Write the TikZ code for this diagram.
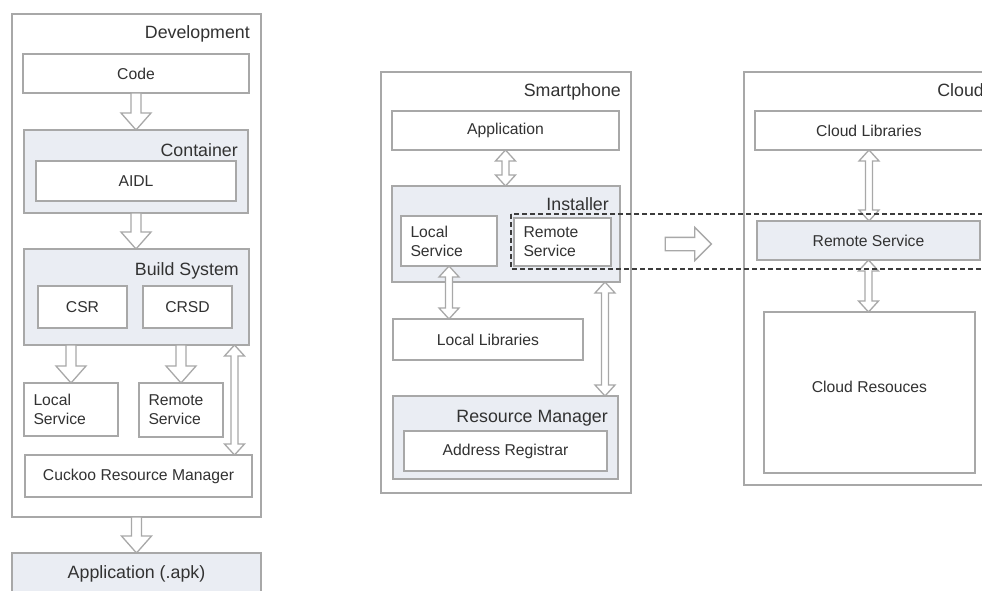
\documentclass[tikz,border=0pt]{standalone}
\usepackage{fontspec}
\setmainfont{Liberation Sans}
\usetikzlibrary{positioning, calc, shapes.arrows}
\definecolor{my_line}{RGB}{168, 168, 168}
\definecolor{my_fill}{RGB}{234, 237, 243}
\definecolor{my_text}{RGB}{50, 50, 50}
\definecolor{my_dash}{RGB}{60, 60, 60}
\newcommand{\headfont}{\fontsize{17.8}{21}\selectfont}
\newcommand{\boxfont}{\fontsize{15.7}{19}\selectfont}
\tikzset {
  frame/.style = {draw=my_line, line width=1.3pt, fill=white, rectangle, inner sep=0pt, outer sep=0pt, font=\boxfont, text=my_text},
  panel/.style = {frame, fill=my_fill},
  boxsize/.style 2 args = {minimum width=#1pt, minimum height=#2pt},
  twoline/.style = {align=left, text width=#1pt, inner xsep=9.5pt},
  title/.style = {anchor=base east, inner sep=0pt, font=\headfont, text=my_text},
  hollow/.style = {draw=my_line, line width=1.3pt, fill=white, line join=miter},
  dashbox/.style = {draw=my_dash, line width=1.3pt, dash pattern=on 5pt off 3pt},
}
% hollow block arrows between two anchors (vertical)
\newcommand{\flowdown}[2]{%
  \draw[hollow] let \p1=(#1), \p2=(#2) in
    (\x1-5pt,\y1) -- (\x1-5pt,\y2+17pt) -- (\x1-15pt,\y2+17pt) -- (\x1,\y2)
    -- (\x1+15pt,\y2+17pt) -- (\x1+5pt,\y2+17pt) -- (\x1+5pt,\y1) -- cycle;}
\newcommand{\flowboth}[2]{%
  \draw[hollow] let \p1=(#1), \p2=(#2) in
    (\x1,\y1) -- (\x1+10pt,\y1-11pt) -- (\x1+3.5pt,\y1-11pt) -- (\x1+3.5pt,\y2+11pt)
    -- (\x1+10pt,\y2+11pt) -- (\x1,\y2) -- (\x1-10pt,\y2+11pt) -- (\x1-3.5pt,\y2+11pt)
    -- (\x1-3.5pt,\y1-11pt) -- (\x1-10pt,\y1-11pt) -- cycle;}
\begin{document}
\begin{tikzpicture}[x=1pt, y=-1pt]
    \useasboundingbox (0,0) rectangle (982,591);
    \fill[white] (0,0) rectangle (982,591);

    % Development
    \node[frame, boxsize={249}{503}] (dev) at (136.5,265.5) {};
    \node[title] (dev_title) at ([xshift=-11pt, yshift=-25pt]dev.north east) {Development};
    \node[frame, boxsize={226}{39}] (code) at (136,73.5) {Code};
    \node[panel, boxsize={224}{83}] (container) at (136,171.5) {};
    \node[title] (container_title) at ([xshift=-10pt, yshift=-27pt]container.north east) {Container};
    \node[frame, boxsize={200}{40}] (aidl) at (136,181) {AIDL};
    \node[panel, boxsize={225}{96}] (build) at (136.5,297) {};
    \node[title] (build_title) at ([xshift=-10pt, yshift=-26pt]build.north east) {Build System};
    \node[frame, boxsize={89}{42}] (csr) at (82.5,307) {CSR};
    \node[frame, boxsize={89}{42}] (crsd) at (187.5,307) {CRSD};
    \node[frame, boxsize={94}{53}, twoline=75] (dev_local) at (71,409.5) {Local\\Service};
    \node[frame, boxsize={84}{54}, twoline=65] (dev_remote) at (181,410) {Remote\\Service};
    \node[frame, boxsize={227}{42}] (cuckoo) at (138.5,476) {Cuckoo Resource Manager};
    \node[panel, boxsize={249}{42}, font=\headfont] (apk) at (136.5,574) {Application (.apk)};

    % Smartphone
    \node[frame, boxsize={250}{421}] (phone) at (506,282.5) {};
    \node[title] (phone_title) at ([xshift=-10pt, yshift=-25pt]phone.north east) {Smartphone};
    \node[frame, boxsize={227}{39}] (app) at (505.5,130.5) {Application};
    \node[panel, boxsize={228}{96}] (installer) at (506,234) {};
    \node[title] (installer_title) at ([xshift=-11pt, yshift=-24pt]installer.north east) {Installer};
    \node[frame, boxsize={96}{50}, twoline=77] (phone_local) at (449,241) {Local\\Service};
    \node[frame, boxsize={97}{48}, twoline=78] (phone_remote) at (562.5,242) {Remote\\Service};
    \node[frame, boxsize={190}{41}] (loclib) at (488,339.5) {Local Libraries};
    \node[panel, boxsize={225}{83}] (resmgr) at (505.5,437.5) {};
    \node[title] (resmgr_title) at ([xshift=-10pt, yshift=-26pt]resmgr.north east) {Resource Manager};
    \node[frame, boxsize={203}{40}] (registrar) at (505.5,451) {Address Registrar};

    % Cloud
    \node[frame, boxsize={250}{413}] (cloud) at (869,278.5) {};
    \node[title] (cloud_title) at ([xshift=-10pt, yshift=-25pt]cloud.north east) {Cloud};
    \node[frame, boxsize={228}{39}] (cloudlib) at (869,130.5) {Cloud Libraries};
    \node[panel, boxsize={223}{39}] (cloud_remote) at (868.5,240.5) {Remote Service};
    \node[frame, boxsize={211}{161}, text depth=12pt] (cloudres) at (869.5,392.5) {Cloud Resouces};

    \node[hollow, single arrow, minimum height=46pt, minimum width=32pt,
          single arrow head extend=10pt, inner sep=6pt] (migrate) at (685,244) {};

    \flowdown{code.south}{container.north}
    \flowdown{container.south}{build.north}
    \flowdown{build.south -| dev_local.north}{dev_local.north}
    \flowdown{build.south -| dev_remote.north}{dev_remote.north}
    \flowdown{dev.south}{apk.north}
    \flowboth{[xshift=-14.5pt]build.south east}{cuckoo.north}

    \flowboth{app.south}{installer.north}
    \flowboth{phone_local.south}{loclib.north}
    \flowboth{[xshift=-15pt]installer.south east}{resmgr.north}

    \flowboth{cloudlib.south}{cloud_remote.north}
    \flowboth{cloud_remote.south}{cloudres.north}

    \draw[dashbox] (511,214) rectangle (1000,269);

  \end{tikzpicture}
\end{document}
